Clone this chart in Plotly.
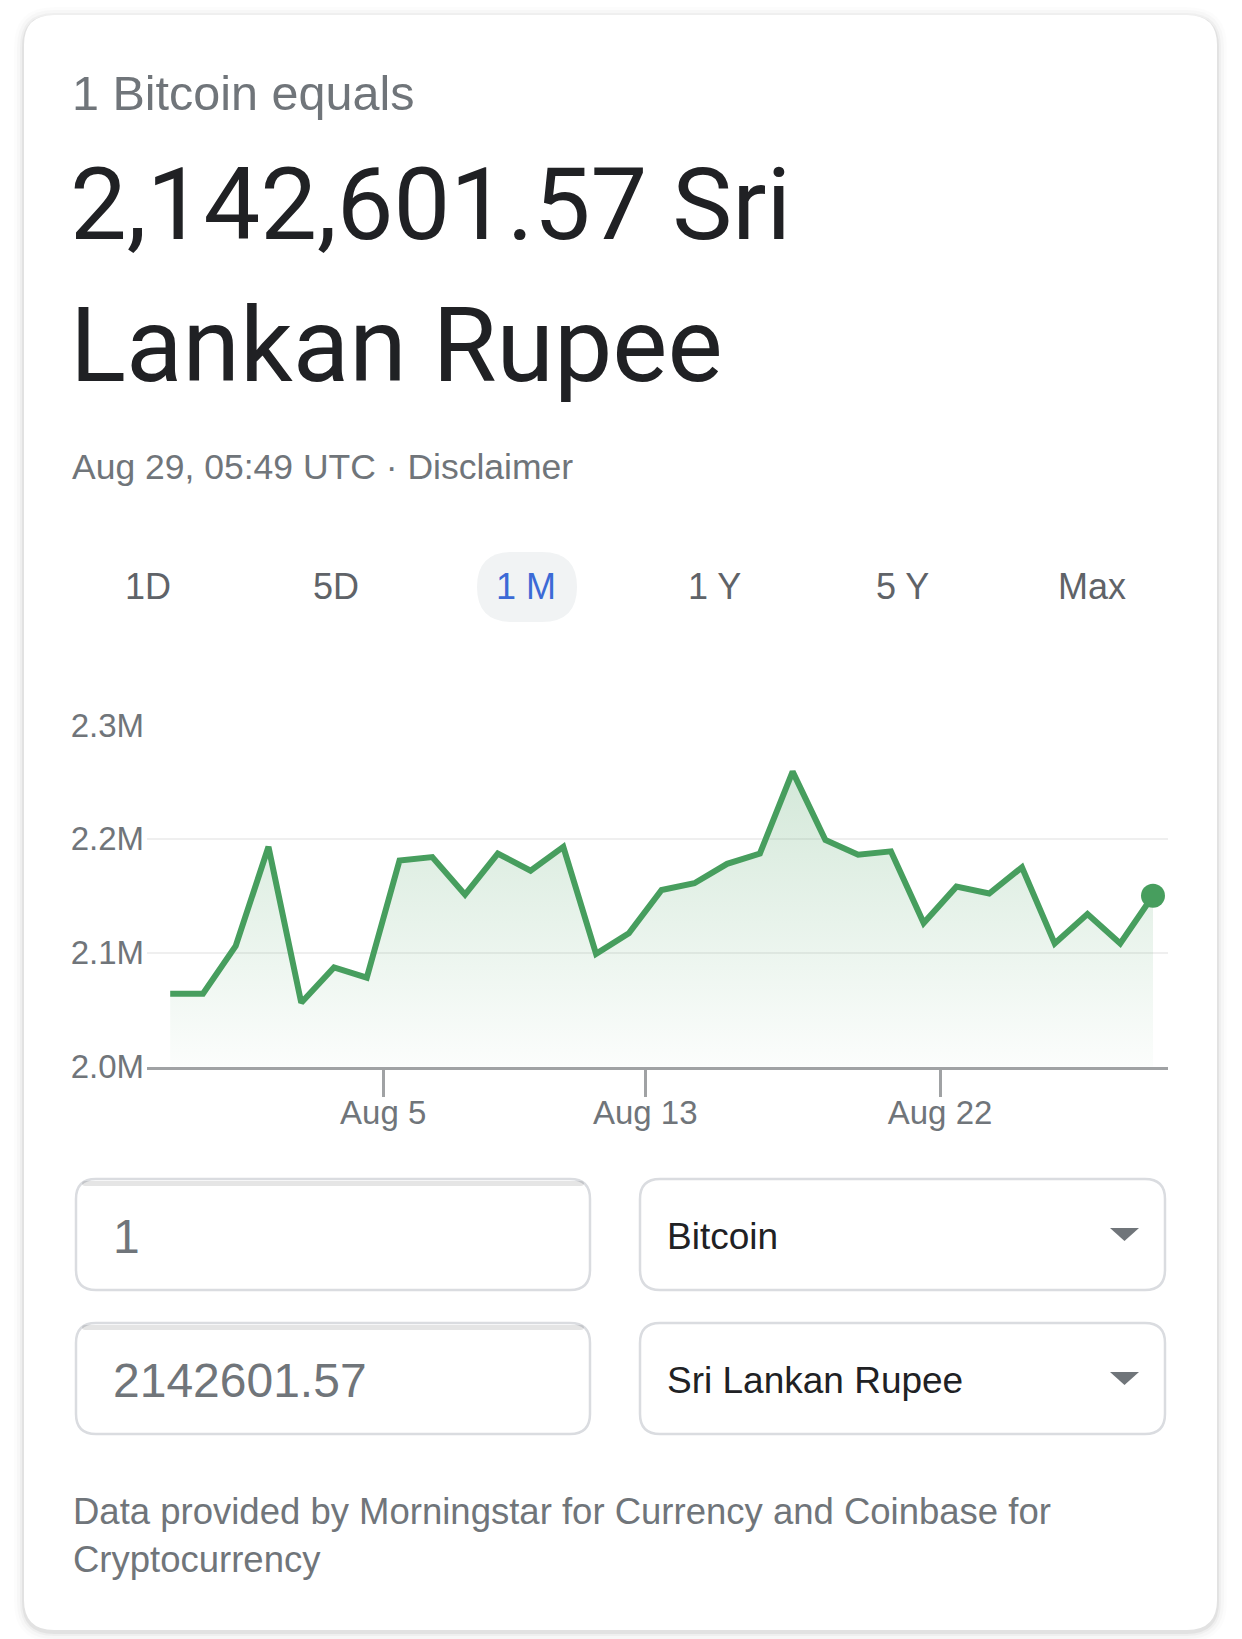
import plotly.graph_objects as go

W, H = 1242, 1639

# ---------------- data ----------------
dates = [
    "2020-07-29 12:00", "2020-07-30 12:00", "2020-07-31 12:00", "2020-08-01 12:00",
    "2020-08-02 12:00", "2020-08-03 12:00", "2020-08-04 12:00", "2020-08-05 12:00",
    "2020-08-06 12:00", "2020-08-07 12:00", "2020-08-08 12:00", "2020-08-09 12:00",
    "2020-08-10 12:00", "2020-08-11 12:00", "2020-08-12 12:00", "2020-08-13 12:00",
    "2020-08-14 12:00", "2020-08-15 12:00", "2020-08-16 12:00", "2020-08-17 12:00",
    "2020-08-18 12:00", "2020-08-19 12:00", "2020-08-20 12:00", "2020-08-21 12:00",
    "2020-08-22 12:00", "2020-08-23 12:00", "2020-08-24 12:00", "2020-08-25 12:00",
    "2020-08-26 12:00", "2020-08-27 12:00", "2020-08-28 12:00",
]
rates = [
    2064000, 2064000, 2106000, 2193000, 2056000, 2087000, 2078000, 2181000,
    2184000, 2151000, 2187000, 2172000, 2193000, 2099000, 2117000, 2155000,
    2161000, 2178000, 2187000, 2259000, 2199000, 2186000, 2189000, 2126000,
    2158000, 2152000, 2175000, 2108000, 2134000, 2108000, 2150000,
]
y_tickvals = [2000000, 2100000, 2200000, 2300000]
y_ticktext = ["2.0M", "2.1M", "2.2M", "2.3M"]
x_tickvals = ["2020-08-05", "2020-08-13", "2020-08-22"]
x_ticktext = ["Aug 5", "Aug 13", "Aug 22"]
tabs = ["1D", "5D", "1 M", "1 Y", "5 Y", "Max"]
selected_tab = "1 M"

GREEN = "#479e5e"
GRAY = "#70757a"
DARK = "#202124"
SMALL = "Liberation Sans, Arial, sans-serif"
BIG = "Roboto, Arial, sans-serif"


def px(x):
    return x / W


def py(y):
    return 1 - y / H


def rr_path(x0, y0, x1, y1, r):
    def p(x, y):
        return f"{px(x):.5f},{py(y):.5f}"
    return (f"M {p(x0 + r, y0)} L {p(x1 - r, y0)} Q {p(x1, y0)} {p(x1, y0 + r)} "
            f"L {p(x1, y1 - r)} Q {p(x1, y1)} {p(x1 - r, y1)} "
            f"L {p(x0 + r, y1)} Q {p(x0, y1)} {p(x0, y1 - r)} "
            f"L {p(x0, y0 + r)} Q {p(x0, y0)} {p(x0 + r, y0)} Z")


fig = go.Figure()

fig.add_trace(go.Scatter(
    x=dates, y=rates, mode="lines",
    line=dict(color=GREEN, width=6),
    fill="tozeroy",
    fillgradient=dict(type="vertical",
                      colorscale=[[0, "rgba(71,158,94,0.02)"], [1, "rgba(71,158,94,0.27)"]],
                      start=2000000, stop=2300000),
    hoverinfo="skip", showlegend=False,
))
fig.add_trace(go.Scatter(
    x=[dates[-1]], y=[rates[-1]], mode="markers",
    marker=dict(color=GREEN, size=24),
    hoverinfo="skip", showlegend=False,
))

shapes = []
# card shadow + card
for grow, col in [(10, "rgba(0,0,0,0.012)"), (7, "rgba(0,0,0,0.02)"), (4, "rgba(0,0,0,0.03)"), (2, "rgba(0,0,0,0.05)")]:
    shapes.append(dict(type="path", xref="paper", yref="paper", layer="below",
                       path=rr_path(24 - grow, 15 - grow + 2, 1217 + grow, 1630 + grow + 2, 30 + grow),
                       fillcolor=col, line=dict(width=0)))
shapes.append(dict(type="path", xref="paper", yref="paper", layer="below",
                   path=rr_path(24, 15, 1217, 1630, 30), fillcolor="white", line=dict(width=0)))
# selected tab pill
shapes.append(dict(type="path", xref="paper", yref="paper", layer="below",
                   path=rr_path(477, 552, 577, 622, 35), fillcolor="#f1f3f4", line=dict(width=0)))
# input boxes
for (x0, y0, x1, y1, inset) in [(76, 1179, 590, 1290, True), (640, 1179, 1165, 1290, False),
                                (76, 1323, 590, 1434, True), (640, 1323, 1165, 1434, False)]:
    shapes.append(dict(type="path", xref="paper", yref="paper", layer="below",
                       path=rr_path(x0, y0, x1, y1, 20), fillcolor="white",
                       line=dict(color="#dadce0", width=2.5)))
    if inset:
        shapes.append(dict(type="path", xref="paper", yref="paper", layer="below",
                           path=rr_path(x0 + 6, y0 + 2, x1 - 6, y0 + 7, 3),
                           fillcolor="rgba(0,0,0,0.10)", line=dict(width=0)))
# dropdown arrows
for cy in [1234, 1378]:
    shapes.append(dict(type="path", xref="paper", yref="paper",
                       path=f"M {px(1110):.5f},{py(cy - 6):.5f} L {px(1139):.5f},{py(cy - 6):.5f} "
                            f"L {px(1124.5):.5f},{py(cy + 7):.5f} Z",
                       fillcolor=GRAY, line=dict(width=0)))

annotations = []


def text(t, x, y, size, color, family=SMALL, anchor="left"):
    annotations.append(dict(text=t, x=px(x), y=py(y), xref="paper", yref="paper",
                            xanchor=anchor, yanchor="middle", showarrow=False,
                            font=dict(size=size, color=color, family=family)))


text("1 Bitcoin equals", 70, 93, 48.5, GRAY)
text("2,142,601.57 Sri", 68, 205, 101, DARK, BIG)
text("Lankan Rupee", 68, 346, 104, DARK, BIG)
text("Aug 29, 05:49 UTC · Disclaimer", 70, 467, 35.5, GRAY)
tab_x = [148, 336, 526, 714, 902, 1092]
for t, x in zip(tabs, tab_x):
    text(t, x, 586, 36, "#3c6ad6" if t == selected_tab else "#5f6368", anchor="center")
text("1", 111, 1236, 48, GRAY)
text("2142601.57", 111, 1380, 48, GRAY)
text("Bitcoin", 665, 1236, 37, DARK)
text("Sri Lankan Rupee", 665, 1380, 37, DARK)
text("Data provided by Morningstar for Currency and Coinbase for", 71, 1511, 36.5, GRAY)
text("Cryptocurrency", 71, 1559, 36.5, GRAY)

fig.update_layout(
    width=W, height=H,
    margin=dict(l=0, r=0, t=0, b=0, pad=0, autoexpand=False),
    paper_bgcolor="white", plot_bgcolor="rgba(0,0,0,0)",
    showlegend=False,
    shapes=shapes, annotations=annotations,
    xaxis=dict(
        type="date", domain=[px(147), px(1168)],
        range=["2020-07-28 19:00", "2020-08-28 23:00"],
        tickvals=x_tickvals, ticktext=x_ticktext,
        showgrid=False, zeroline=False, automargin=False,
        showline=True, linecolor="#a0a2a4", linewidth=3,
        ticks="outside", ticklen=27, tickwidth=2.7, tickcolor="#a0a2a4",
        ticklabelstandoff=-12,
        tickfont=dict(size=33, color=GRAY, family=SMALL),
    ),
    yaxis=dict(
        domain=[py(1066.5), py(725)],
        range=[2000000, 2300000],
        tickvals=y_tickvals, ticktext=y_ticktext,
        showgrid=True, gridcolor="#efefef", gridwidth=2,
        zeroline=False, showline=False, ticks="", automargin=False,
        ticklabelstandoff=2,
        tickfont=dict(size=33, color=GRAY, family=SMALL),
    ),
)

fig.write_html("out.html", config={"displayModeBar": False},
               post_script="document.body.style.margin='0px';document.body.style.overflow='hidden';")
